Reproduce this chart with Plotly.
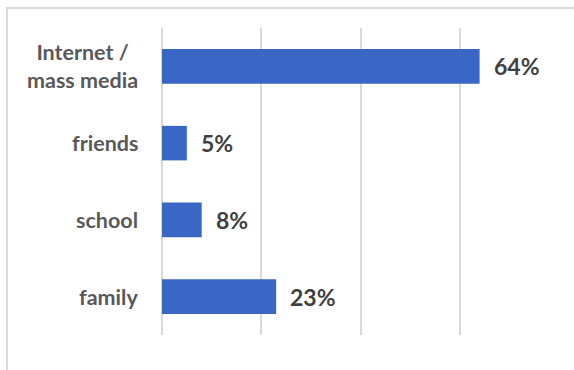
import plotly.graph_objects as go

# Share of respondents by main source
categories = ["Internet /<br>mass media", "friends", "school", "family"]
values = [64, 5, 8, 23]
value_labels = ["64%", "5%", "8%", "23%"]

W, H = 574, 370
ML, MR, MT, MB = 162, 15, 28, 35

fig = go.Figure(
    go.Bar(
        x=values,
        y=categories,
        orientation="h",
        marker=dict(color="#3A66C5", line=dict(width=0)),
        hoverinfo="skip",
    )
)

# Category labels placed left of the axis, centered line-by-line
annotations = []
for c in categories:
    annotations.append(dict(
        x=0, y=c, xref="x", yref="y", text=c, showarrow=False,
        xanchor="right", xshift=-22, align="center",
        font=dict(family="Lato", size=21.5, color="#595959", weight="bold"),
    ))
# Value labels to the right of each bar
for v, t, c in zip(values, value_labels, categories):
    annotations.append(dict(
        x=v, y=c, xref="x", yref="y", text=t, showarrow=False,
        xanchor="left", xshift=12,
        font=dict(family="Lato", size=23, color="#404040", weight="bold"),
    ))

pw = W - ML - MR
ph = H - MT - MB
fig.update_layout(
    width=W, height=H,
    margin=dict(l=ML, r=MR, t=MT, b=MB),
    paper_bgcolor="white", plot_bgcolor="white",
    bargap=0.55,
    showlegend=False,
    annotations=annotations,
    shapes=[dict(
        type="rect", xref="paper", yref="paper",
        x0=(7 - ML) / pw, x1=(W + 10 - ML) / pw,
        y0=-(H + 10 - (H - MB)) / ph, y1=(H - MB - 8) / ph,
        line=dict(color="#D9D9D9", width=2), layer="below",
    )],
    xaxis=dict(range=[0, 80], dtick=20, showticklabels=False,
               showgrid=True, gridcolor="#D9D9D9", gridwidth=1.5,
               zeroline=True, zerolinecolor="#D9D9D9", zerolinewidth=1.5,
               showline=False, fixedrange=True),
    yaxis=dict(showticklabels=False, autorange="reversed",
               showgrid=False, zeroline=False, showline=False, fixedrange=True),
)

fig.write_html("out.html")
